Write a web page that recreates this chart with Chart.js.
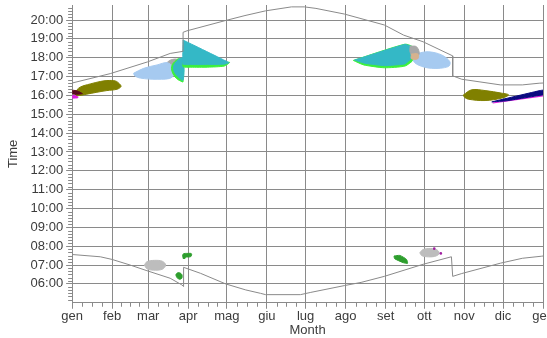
<!DOCTYPE html>
<html>
<head>
<meta charset="utf-8">
<script src="https://cdn.jsdelivr.net/npm/chart.js@4.4.1/dist/chart.umd.min.js"></script>
<style>
  html, body { margin: 0; padding: 0; background: #fff; }
  #wrap { width: 547px; height: 338px; }
</style>
</head>
<body>
<div id="wrap"><canvas id="myChart"></canvas></div>
<script>
// month axis (day of year) and hour axis
const monthLabels = ['gen', 'feb', 'mar', 'apr', 'mag', 'giu', 'lug', 'ago', 'set', 'ott', 'nov', 'dic', 'gen'];
const monthStarts = [0, 31, 59, 90, 120, 151, 181, 212, 243, 273, 304, 334, 365];
const hourTicks = [6, 7, 8, 9, 10, 11, 12, 13, 14, 15, 16, 17, 18, 19, 20];

// sunset / sunrise lines (with the DST jumps)
const sunsetDays  = [0, 29.6, 58.4, 76, 86, 86, 89, 118, 134, 150, 170, 180, 189, 211, 242, 257, 272, 295, 295, 302, 332, 349, 362, 365];
const sunsetHours = [16.66, 17.16, 17.78, 18.23, 18.34, 19.35, 19.43, 19.96, 20.24, 20.49, 20.70, 20.70, 20.62, 20.32, 19.74, 19.2, 18.85, 18.1, 17.04, 16.86, 16.56, 16.56, 16.65, 16.66];
const sunriseDays  = [0, 21.8, 30.9, 45, 58, 76, 85, 86.4, 86.4, 99.6, 119, 134.6, 146, 150, 177, 185, 211, 224, 242, 272, 294, 295, 302, 332, 349, 364, 365];
const sunriseHours = [7.56, 7.44, 7.3, 7.0, 6.7, 6.3, 5.95, 5.86, 6.88, 6.56, 6.0, 5.68, 5.5, 5.43, 5.43, 5.55, 5.91, 6.08, 6.4, 7.04, 7.44, 6.4, 6.55, 7.1, 7.36, 7.47, 7.48];

// shading blobs: [day, hour]
const oliveJan   = [[1.6, 16.15], [6.2, 16.44], [14, 16.61], [21.8, 16.74], [27, 16.79], [33.5, 16.77], [36.8, 16.61], [37.9, 16.47], [34.8, 16.33], [27, 16.26], [19.2, 16.17], [11.4, 16.07], [3.7, 16.0]];
const darkJan    = [[0.4, 16.28], [4, 16.24], [8, 16.1], [4, 16.06], [0.4, 16.08]];
const magentaJan = [[0.3, 16.0], [4, 16.0], [4.5, 15.88], [0.3, 15.86]];
const skyMar     = [[47.7, 17.18], [55.5, 17.44], [65.9, 17.62], [73.7, 17.74], [77.8, 17.51], [77.6, 16.97], [65.9, 16.86], [52.9, 16.92], [48.5, 17.04]];
const grayMar    = [[72.4, 17.67], [76.3, 17.88], [81.7, 17.9], [81.7, 17.46], [74.7, 17.51]];
const tanMar     = [[75, 17.6], [80, 17.62], [80, 17.35], [75, 17.38]];
const greenMarL  = [[82, 17.95], [77.5, 17.62], [77.5, 17.26], [80.9, 16.9], [85.5, 16.72], [86, 16.72], [86, 17.9]];
const cyanMarL   = [[83, 17.95], [86, 17.98], [86, 16.82], [82, 17.0], [79, 17.3], [79, 17.62]];
const greenApr   = [[86, 17.75], [122, 17.76], [118, 17.56], [105, 17.5], [92, 17.5], [86, 17.52]];
const cyanApr    = [[86, 18.94], [121.6, 17.74], [118, 17.66], [105, 17.64], [92, 17.64], [86, 17.66]];
const greenSep   = [[218, 17.86], [258, 18.72], [264.5, 18.55], [264.5, 17.9], [258, 17.56], [242, 17.47], [226, 17.62]];
const cyanSep    = [[219, 17.88], [257.8, 18.71], [263, 18.59], [263, 17.97], [257.8, 17.67], [242.3, 17.58], [226.7, 17.71]];
const graySep    = [[262, 18.62], [267, 18.58], [269, 18.2], [265, 18.0], [262, 18.3]];
const tanSep     = [[263, 18.2], [268, 18.2], [268, 17.95], [263, 17.95]];
const skyOct     = [[268.2, 18.24], [276, 18.32], [286.4, 18.15], [292.8, 17.79], [291.6, 17.53], [278.6, 17.44], [268.2, 17.62], [264.4, 17.88]];
const oliveDec   = [[303.3, 16.03], [309.7, 16.3], [320.1, 16.26], [333.1, 16.12], [338.3, 16.03], [333.1, 15.86], [320.1, 15.73], [307.2, 15.8], [304.1, 15.91]];
const navyDec    = [[325.3, 15.66], [362.6, 16.26], [365, 16.28], [365, 16.04], [337, 15.72]];
const magentaDec = [[326, 15.6], [365, 15.98]];
const grayMarLow  = [[56, 7.0], [58, 7.18], [64, 7.25], [70, 7.2], [72.5, 7.0], [70, 6.78], [63, 6.73], [58, 6.8]];
const greenMarLow = [[81, 6.35], [80.5, 6.5], [82.5, 6.6], [85, 6.5], [85, 6.3], [83, 6.25]];
const greenAprLow = [[86, 7.35], [86, 7.58], [90, 7.62], [92.5, 7.6], [92, 7.45], [88, 7.42], [87.5, 7.35]];
const greenSepLow = [[249.5, 7.48], [254, 7.51], [259.2, 7.3], [260, 7.09], [256.6, 7.13], [250, 7.34]];
const grayOctLow  = [[269.5, 7.65], [272, 7.82], [278, 7.88], [283, 7.8], [284.5, 7.6], [281, 7.46], [275, 7.44], [271, 7.5]];
const magentaDots = [[280.7, 7.87], [285.8, 7.62]];

const FONT = "'Liberation Sans', Arial, sans-serif";
const GRID = '#8a8a8a';

const pts = arr => arr.map(p => ({ x: p[0], y: p[1] }));
const closed = arr => pts(arr.concat([arr[0]]));

// filled blob, order: smaller = drawn on top
function blob(arr, color, order, tension = 0.35) {
  return {
    data: closed(arr), showLine: true, fill: 'shape',
    backgroundColor: color, borderColor: color, borderWidth: 1,
    pointRadius: 0, tension: tension, order: order
  };
}

const datasets = [
  { data: sunsetDays.map((d, i) => ({ x: d, y: sunsetHours[i] })), showLine: true, borderColor: '#8a8a8a', borderWidth: 1, pointRadius: 0, tension: 0, order: 1 },
  { data: sunriseDays.map((d, i) => ({ x: d, y: sunriseHours[i] })), showLine: true, borderColor: '#8a8a8a', borderWidth: 1, pointRadius: 0, tension: 0, order: 1 },
  blob(oliveJan, '#808000', 20),
  blob(darkJan, '#5a0a1e', 19, 0.1),
  blob(magentaJan, '#e020e0', 21, 0.1),
  blob(skyMar, '#a6caf0', 22),
  blob(grayMar, '#a8a8a8', 23),
  blob(tanMar, '#d6b28e', 22.5),
  blob(greenMarL, '#3cf03c', 18),
  blob(cyanMarL, '#34b8c6', 17),
  blob(greenApr, '#3cf03c', 16, 0.2),
  blob(cyanApr, '#34b8c6', 15, 0.1),
  blob(greenSep, '#3cf03c', 16, 0.2),
  blob(cyanSep, '#34b8c6', 15, 0.1),
  blob(graySep, '#a8a8a8', 14),
  blob(tanSep, '#d6b28e', 13.5),
  blob(skyOct, '#a6caf0', 14.5),
  blob(oliveDec, '#808000', 12),
  blob(navyDec, '#0a0a80', 11, 0.05),
  { data: pts(magentaDec), showLine: true, borderColor: '#e020e0', borderWidth: 1.2, pointRadius: 0, order: 11.5 },
  blob(grayMarLow, '#bdbdbd', 10),
  blob(greenMarLow, '#2e9e2e', 10),
  blob(greenAprLow, '#2e9e2e', 10),
  blob(greenSepLow, '#2e9e2e', 10, 0.2),
  blob(grayOctLow, '#bdbdbd', 10),
  { data: pts(magentaDots), pointRadius: 1.3, pointBackgroundColor: '#a020a0', pointBorderWidth: 0, order: 5 }
];

// minor ticks on both axes
const minorTicks = {
  id: 'minorTicks',
  afterDraw(chart) {
    const { ctx, scales: { x, y }, chartArea: a } = chart;
    ctx.save();
    ctx.strokeStyle = GRID;
    ctx.lineWidth = 1;
    ctx.beginPath();
    for (let m = 0; m < 12; m++) {
      const len = monthStarts[m + 1] - monthStarts[m];
      for (let k = 1; k < 4; k++) {
        const px = Math.round(x.getPixelForValue(monthStarts[m] + k * len / 4)) + 0.5;
        ctx.moveTo(px, a.bottom);
        ctx.lineTo(px, a.bottom + 4);
      }
    }
    for (let t = 5 * 6; t <= 20.8 * 6; t++) {
      if (t % 6 === 0) continue;
      const py = Math.round(y.getPixelForValue(t / 6)) + 0.5;
      ctx.moveTo(a.left - 4, py);
      ctx.lineTo(a.left, py);
    }
    ctx.stroke();
    ctx.restore();
  }
};

new Chart(document.getElementById('myChart'), {
  type: 'scatter',
  data: { datasets: datasets },
  plugins: [minorTicks],
  options: {
    responsive: true,
    maintainAspectRatio: false,
    animation: false,
    layout: { padding: { left: 4, top: 5, right: 4, bottom: 0 } },
    plugins: { legend: { display: false }, tooltip: { enabled: false } },
    scales: {
      x: {
        type: 'linear', min: 0, max: 365,
        afterBuildTicks: s => { s.ticks = monthStarts.map(v => ({ value: v })); },
        afterFit: s => { s.paddingLeft = 0; s.paddingRight = 0; },
        grid: { color: GRID, lineWidth: 1, tickLength: 6 },
        border: { color: GRID },
        ticks: {
          autoSkip: false, maxRotation: 0, padding: 0,
          color: '#3c3c3c', font: { family: FONT, size: 13, lineHeight: 1.15 },
          callback: (v, i) => monthLabels[i]
        },
        title: { display: true, text: 'Month', color: '#3c3c3c', font: { family: FONT, size: 13, lineHeight: 1.1 }, padding: { top: 0, bottom: 0 } }
      },
      y: {
        type: 'linear', min: 5, max: 20.8,
        afterBuildTicks: s => { s.ticks = hourTicks.map(v => ({ value: v })); },
        afterFit: s => { s.paddingTop = 0; s.paddingBottom = 0; },
        grid: { color: GRID, lineWidth: 1, tickLength: 6 },
        border: { color: GRID },
        ticks: {
          padding: 3, color: '#3c3c3c', font: { family: FONT, size: 13 },
          callback: v => String(v).padStart(2, '0') + ':00'
        },
        title: { display: true, text: 'Time', color: '#3c3c3c', font: { family: FONT, size: 13 }, padding: { top: 2, bottom: 6 } }
      }
    }
  }
});
</script>
</body>
</html>
